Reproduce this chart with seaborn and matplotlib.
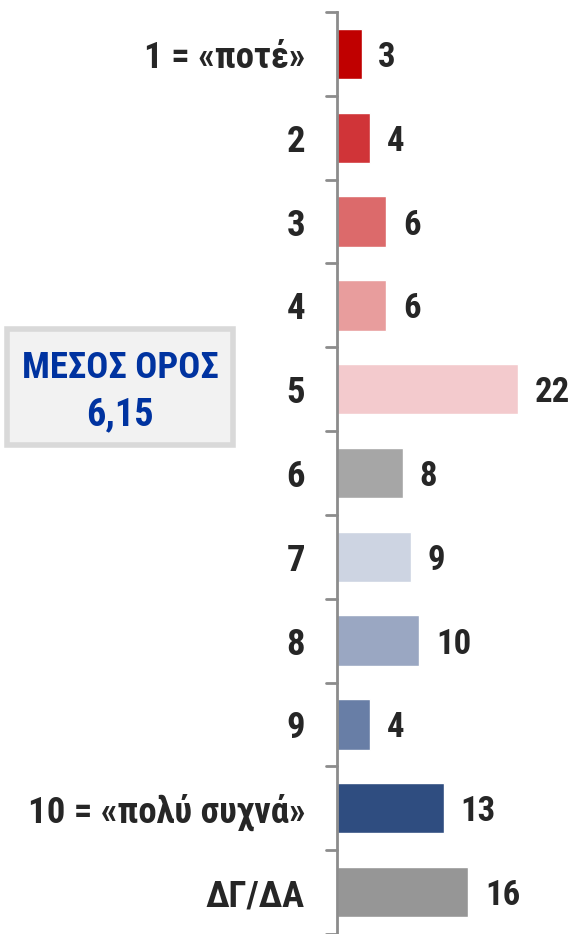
import matplotlib
matplotlib.use('Agg')
import matplotlib.pyplot as plt
import seaborn as sns
import pandas as pd
from matplotlib.patches import FancyBboxPatch

# 数据
categories = ['1 = «ποτέ»', '2', '3', '4', '5', '6', '7', '8', '9', '10 = «πολύ συχνά»', 'ΔΓ/ΔΑ']
values = [3, 4, 6, 6, 22, 8, 9, 10, 4, 13, 16]
colors = ['#C00000', '#D03438', '#DC6A6B', '#E89D9D', '#F3CACD', '#A6A6A6',
          '#CDD4E2', '#9AA7C2', '#687EA6', '#2F4D80', '#969696']
mean_label = 'ΜΕΣΟΣ ΟΡΟΣ'
mean_value = '6,15'

sns.set_theme(style='white')
plt.rcParams['font.family'] = ['Roboto Condensed', 'Liberation Sans Narrow', 'Arial Narrow',
                               'Liberation Sans', 'DejaVu Sans']

df = pd.DataFrame({'cat': categories, 'val': values})

fig = plt.figure(figsize=(5.72, 9.34), dpi=100)
ax = fig.add_axes([337 / 572, 0, 1 - 337 / 572, 1 - 12 / 934])
sns.barplot(data=df, y='cat', x='val', hue='cat', palette=colors, legend=False,
            width=0.6, saturation=1, ax=ax, orient='h')

ax.set_xlim(0, 28.6)
ax.set_ylim(len(categories) - 0.5, -0.5)
ax.set_xlabel('')
ax.set_ylabel('')
ax.set_xticks([])

for i, v in enumerate(values):
    ax.annotate(str(v), (v, i), xytext=(12, 0), textcoords='offset points',
                va='center_baseline', ha='left', fontsize=25, fontweight='bold', color='#262626')

for s in ['top', 'right', 'bottom']:
    ax.spines[s].set_visible(False)
ax.spines['left'].set_color('#8C8C8C')
ax.spines['left'].set_linewidth(2)

# 刻度线在类别之间
ax.set_yticks(range(len(categories)))
ax.set_yticklabels(categories, fontsize=26.5, fontweight='bold', color='#262626',
                   va='center_baseline')
ax.tick_params(axis='y', length=0, pad=23)
for b in [i - 0.5 for i in range(len(categories) + 1)]:
    ax.plot([-1.35, 0], [b, b], color='#8C8C8C', lw=2, clip_on=False)

# 平均值框
box = FancyBboxPatch((7 / 572, 1 - 445 / 934), 226 / 572, 116 / 934,
                     boxstyle='square,pad=0', transform=fig.transFigure,
                     facecolor='#F2F2F2', edgecolor='#D9D9D9', linewidth=4)
fig.patches.append(box)
fig.text(120 / 572, 1 - 364 / 934, mean_label, ha='center', va='center_baseline',
         fontsize=26.5, fontweight='bold', color='#0033A0')
fig.text(120 / 572, 1 - 411 / 934, mean_value, ha='center', va='center_baseline',
         fontsize=27.5, fontweight='bold', color='#0033A0')

fig.savefig('out.png', dpi=100)
